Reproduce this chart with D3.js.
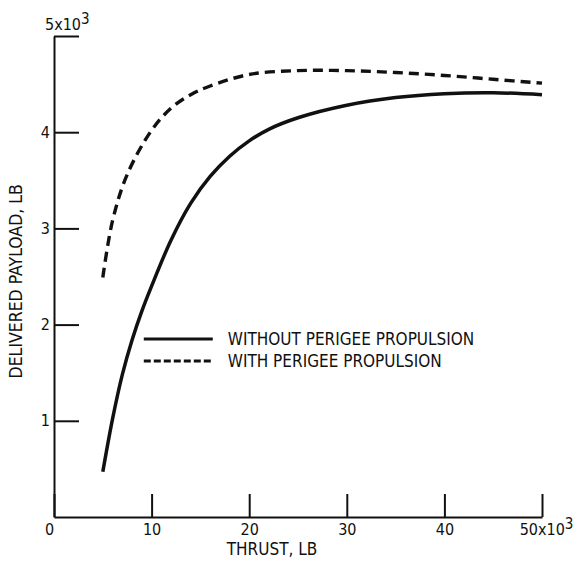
<!DOCTYPE html>
<html>
<head>
<meta charset="utf-8">
<script src="https://cdn.jsdelivr.net/npm/d3@7"></script>
<style>
  body { margin: 0; background: #fff; }
  text { font-family: "DejaVu Sans Condensed", "Liberation Sans Narrow", sans-serif; fill: #111; }
</style>
</head>
<body>
<div id="chart"></div>
<script>
// thrust in thousands of lb, payload in thousands of lb
var withoutThrust = [5, 6, 7, 8, 9, 10, 12, 14, 16, 18, 20, 22, 25, 30, 35, 40, 45, 50];
var withoutPayload = [0.47, 1.02, 1.48, 1.84, 2.14, 2.40, 2.88, 3.26, 3.54, 3.75, 3.91, 4.03, 4.15, 4.28, 4.36, 4.40, 4.41, 4.39];
var withThrust = [5, 6, 7.5, 10, 12, 14, 16, 20, 25, 30, 35, 40, 45, 50];
var withPayload = [2.49, 3.08, 3.56, 4.02, 4.25, 4.39, 4.48, 4.60, 4.64, 4.64, 4.62, 4.59, 4.55, 4.51];
var xTicks = [0, 10, 20, 30, 40, 50];
var yTicks = [1, 2, 3, 4, 5];
var legendLabels = ["WITHOUT PERIGEE PROPULSION", "WITH PERIGEE PROPULSION"];

var width = 575, height = 570;
var margin = { top: 36, right: 33, bottom: 53, left: 54 };
var chartWidth = width - margin.left - margin.right;
var chartHeight = height - margin.top - margin.bottom;

var svg = d3.select("#chart").append("svg")
  .attr("width", width)
  .attr("height", height);

var g = svg.append("g")
  .attr("transform", `translate(${margin.left}, ${margin.top})`);

var xScale = d3.scaleLinear().domain([0, 50]).range([0, chartWidth]);
var yScale = d3.scaleLinear().domain([0, 5]).range([chartHeight, 0]);

// ticks point inward, like the original drawing
var xAxis = d3.axisBottom(xScale).tickValues(xTicks).tickFormat(d3.format("d"))
  .tickSize(-23).tickSizeOuter(0).tickPadding(7);
var yAxis = d3.axisLeft(yScale).tickValues(yTicks).tickFormat(d3.format("d"))
  .tickSize(-25).tickSizeOuter(0).tickPadding(4);

var xg = g.append("g")
  .attr("transform", `translate(0, ${chartHeight})`)
  .call(xAxis);
var yg = g.append("g").call(yAxis);

[xg, yg].forEach(a => {
  a.attr("font-family", null);
  a.select(".domain").attr("stroke", "#111").attr("stroke-width", 2);
  a.selectAll(".tick line").attr("stroke", "#111").attr("stroke-width", 2);
  a.selectAll(".tick text").attr("font-size", 16);
});

// "0" sits a little left of the axis
xg.selectAll(".tick").filter(d => d === 0).select("text").attr("x", -5);

// top y tick label: 5x10^3 above the axis
yg.selectAll(".tick").filter(d => d === 5).select("text")
  .attr("x", -9).attr("y", -7).attr("dy", 0).attr("text-anchor", "start")
  .text("5x10")
  .append("tspan").attr("dy", -6).attr("font-size", 15).text("3");

// last x tick label: 50x10^3
xg.selectAll(".tick").filter(d => d === 50).select("text")
  .attr("x", 4)
  .text("50x10")
  .append("tspan").attr("dy", -6).attr("font-size", 15).text("3");

// axis titles
g.append("text")
  .attr("x", 218)
  .attr("y", chartHeight + 26)
  .attr("text-anchor", "middle")
  .attr("dy", "0.71em")
  .attr("font-size", 17)
  .text("THRUST, LB");

g.append("text")
  .attr("transform", `translate(-32, ${yScale(2.45)}) rotate(-90)`)
  .attr("text-anchor", "middle")
  .attr("font-size", 17.5)
  .text("DELIVERED PAYLOAD, LB");

var line = d3.line()
  .x(d => xScale(d[0]))
  .y(d => yScale(d[1]))
  .curve(d3.curveCatmullRom.alpha(0.5));

var withoutData = withoutThrust.map((t, i) => [t, withoutPayload[i]]);
var withData = withThrust.map((t, i) => [t, withPayload[i]]);

g.append("path")
  .datum(withoutData)
  .attr("d", line)
  .attr("fill", "none")
  .attr("stroke", "#111")
  .attr("stroke-width", 3.5);

g.append("path")
  .datum(withData)
  .attr("d", line)
  .attr("fill", "none")
  .attr("stroke", "#111")
  .attr("stroke-width", 3.4)
  .attr("stroke-dasharray", "10,6");

// legend
var legend = g.append("g").attr("transform", `translate(${xScale(9.2)}, ${yScale(1.85)})`);
legendLabels.forEach((label, i) => {
  var row = legend.append("g").attr("transform", `translate(0, ${i * 22})`);
  row.append("line")
    .attr("x1", 0).attr("x2", 69)
    .attr("stroke", "#111")
    .attr("stroke-width", 3)
    .attr("stroke-dasharray", i === 0 ? null : "7,3");
  row.append("text")
    .attr("x", 84).attr("y", 6)
    .attr("font-size", 17)
    .text(label);
});
</script>
</body>
</html>
